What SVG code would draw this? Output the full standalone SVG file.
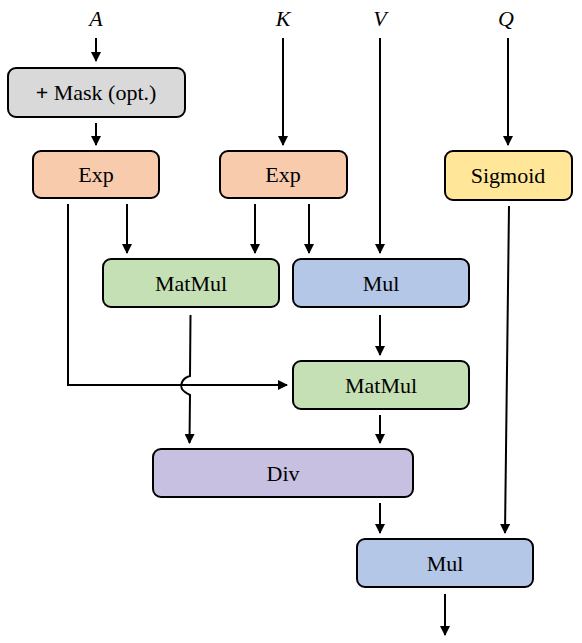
<svg xmlns="http://www.w3.org/2000/svg" width="582" height="643" viewBox="0 0 582 643">
<style>
.box{stroke:#000;stroke-width:2}
.c{fill:none;stroke:#000;stroke-width:2}
</style>
<defs>
<marker id="ah" markerWidth="10" markerHeight="10" refX="9" refY="5" orient="auto" markerUnits="userSpaceOnUse">
<path d="M0,0 L10,5 L0,10 Z" fill="#000"/>
</marker>
</defs>
<rect width="582" height="643" fill="#fff"/>
<g font-family="Liberation Serif" font-size="22" text-anchor="middle" fill="#000">
<g id="labels" font-style="italic">
<text x="96" y="26">A</text>
<text x="283" y="26">K</text>
<text x="380" y="26">V</text>
<text x="506" y="26">Q</text>
</g>
<g id="mask"><rect class="box" x="8" y="68" width="177" height="49" rx="8" fill="#d9d9d9"/><text x="96" y="100"><tspan font-weight="bold">+</tspan> Mask (opt.)</text></g>
<g id="exp1"><rect class="box" x="33" y="151" width="126" height="47" rx="8" fill="#f8cbad"/><text x="96" y="182">Exp</text></g>
<g id="exp2"><rect class="box" x="220" y="151" width="127" height="47" rx="8" fill="#f8cbad"/><text x="283" y="182">Exp</text></g>
<g id="sigmoid"><rect class="box" x="445" y="151" width="127" height="49" rx="8" fill="#ffe699"/><text x="508" y="183">Sigmoid</text></g>
<g id="matmul1"><rect class="box" x="103" y="259" width="176" height="48" rx="8" fill="#c5e0b4"/><text x="191" y="291">MatMul</text></g>
<g id="mul1"><rect class="box" x="293" y="259" width="176" height="48" rx="8" fill="#b4c7e7"/><text x="381" y="291">Mul</text></g>
<g id="matmul2"><rect class="box" x="293" y="361" width="176" height="48" rx="8" fill="#c5e0b4"/><text x="381" y="393">MatMul</text></g>
<g id="div"><rect class="box" x="153" y="449" width="260" height="48" rx="8" fill="#c7c0e1"/><text x="283" y="481">Div</text></g>
<g id="mul2"><rect class="box" x="357" y="539" width="176" height="48" rx="8" fill="#b4c7e7"/><text x="445" y="571">Mul</text></g>
</g>
<g id="connectors">
<path class="c" d="M96,38 V61" marker-end="url(#ah)"/>
<path class="c" d="M96,123 V145" marker-end="url(#ah)"/>
<path class="c" d="M283,38 V145" marker-end="url(#ah)"/>
<path class="c" d="M380,38 V253" marker-end="url(#ah)"/>
<path class="c" d="M508,38 V145" marker-end="url(#ah)"/>
<path class="c" d="M127,204 V253" marker-end="url(#ah)"/>
<path class="c" d="M255,204 V253" marker-end="url(#ah)"/>
<path class="c" d="M309,204 V253" marker-end="url(#ah)"/>
<path class="c" d="M68,204 V385 H287" marker-end="url(#ah)"/>
<path class="c" d="M190.5,315 L190,376 C182,378 180,385 182,389 C184,392 188,394 190,395 L189.5,443" marker-end="url(#ah)"/>
<path class="c" d="M380,315 V355" marker-end="url(#ah)"/>
<path class="c" d="M380,415 V443" marker-end="url(#ah)"/>
<path class="c" d="M380,503 V533" marker-end="url(#ah)"/>
<path class="c" d="M509,206 L505,533" marker-end="url(#ah)"/>
<path class="c" d="M445,594 V635" marker-end="url(#ah)"/>
</g>
</svg>
